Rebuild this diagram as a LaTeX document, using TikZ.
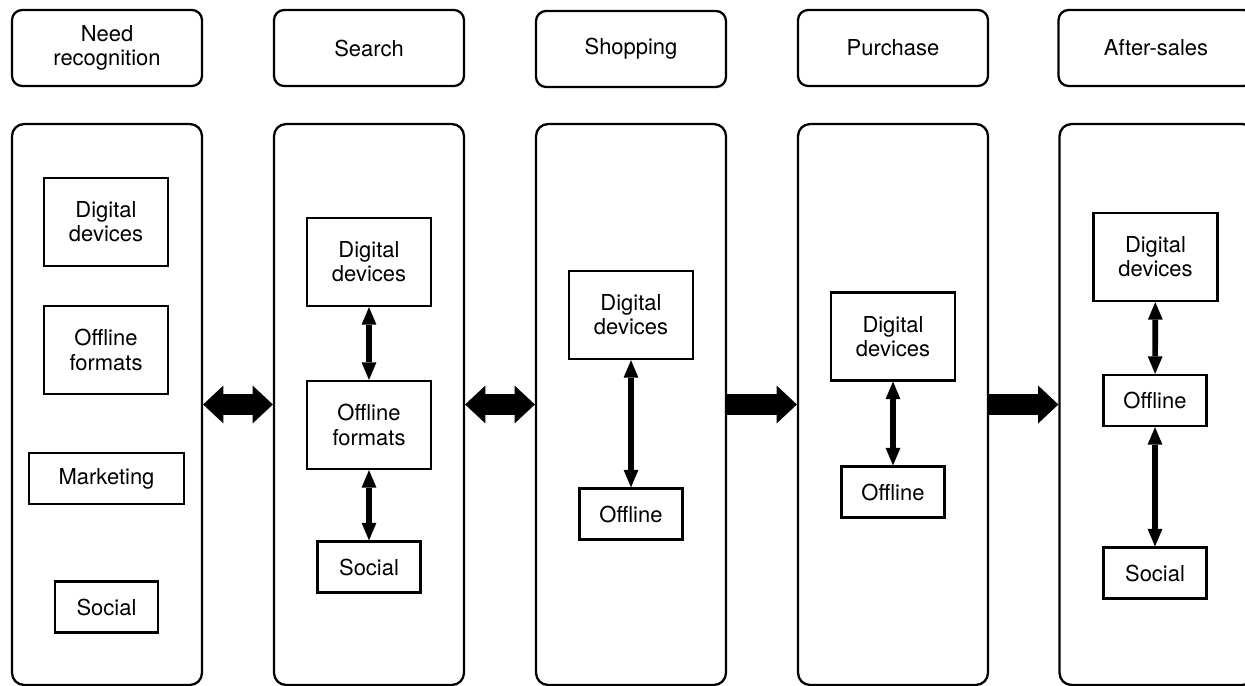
\documentclass[tikz,border=0pt]{standalone}
\usepackage{fontspec}
\setmainfont{TeX Gyre Heros}
\usetikzlibrary{arrows.meta}

\begin{document}
\begin{tikzpicture}[
		x=0.02cm, y=-0.02cm,
		every node/.style={draw, line width=1.3pt, font=\fontsize{12.5}{13.8}\selectfont, align=center, inner sep=0pt},
		stage/.style={rounded corners=0.2cm, minimum width=3.8cm, minimum height=1.52cm},
		column/.style={rounded corners=0.24cm, minimum width=3.8cm, minimum height=11.22cm},
		cut/.style={minimum width=3.9cm},
		wide/.style={minimum width=2.48cm, minimum height=1.76cm},
		small/.style={minimum width=2.06cm, minimum height=1.02cm},
		long/.style={minimum width=3.1cm, minimum height=1.02cm},
		link/.style={line width=3.2pt, {Triangle[length=10pt, width=8.5pt, line width=0pt]}-{Triangle[length=10pt, width=8.5pt, line width=0pt]}},
		fat/.style={line width=12.5pt, -{Triangle[length=11.5pt, width=21.5pt, line width=0pt]}},
		fatboth/.style={line width=12.5pt, {Triangle[length=11.5pt, width=21.5pt, line width=0pt]}-{Triangle[length=11.5pt, width=21.5pt, line width=0pt]}}
	]
  \useasboundingbox (0,0) rectangle (1245,686);
  \node (need) [stage] at (107, 48) {Need\\recognition};
  \node (search) [stage] at (369, 48) {Search};
  \node (shop) [stage] at (631, 49) {Shopping};
  \node (buy) [stage] at (893, 48) {Purchase};
  \node (after) [stage, cut] at (1156, 48) {After-sales};
  \node (col_1) [column] at (107, 404.5) {};
  \node (col_2) [column] at (369, 404.5) {};
  \node (col_3) [column] at (631, 404.5) {};
  \node (col_4) [column] at (893, 404.5) {};
  \node (col_5) [column, cut] at (1157, 404.5) {};
  \node (dig_1) [wide] at (106, 222) {Digital\\devices};
  \node (off_1) [wide] at (106, 350) {Offline\\formats};
  \node (mkt_1) [long] at (106.5, 478.5) {Marketing};
  \node (soc_1) [small] at (106.5, 607) {Social};
  \node (dig_2) [wide] at (369, 262) {Digital\\devices};
  \node (off_2) [wide] at (369, 425) {Offline\\formats};
  \node (soc_2) [small] at (369, 567) {Social};
  \node (dig_3) [wide] at (631, 315) {Digital\\devices};
  \node (off_3) [small] at (631, 514) {Offline};
  \node (dig_4) [wide] at (893, 336.5) {Digital\\devices};
  \node (off_4) [small] at (893, 492) {Offline};
  \node (dig_5) [wide] at (1155.5, 257) {Digital\\devices};
  \node (off_5) [small] at (1155, 400.5) {Offline};
  \node (soc_5) [small] at (1155, 573) {Social};
  \draw [link] (dig_2) -- (off_2);
  \draw [link] (off_2) -- (soc_2);
  \draw [link] (dig_3) -- (off_3);
  \draw [link] (dig_4) -- (off_4);
  \draw [link] (dig_5) -- (off_5);
  \draw [link] (off_5) -- (soc_5);
  \draw [fatboth] (col_1) -- (col_2);
  \draw [fatboth] (col_2) -- (col_3);
  \draw [fat] (col_3) -- (col_4);
  \draw [fat] (col_4) -- (col_5);
\end{tikzpicture}
\end{document}
